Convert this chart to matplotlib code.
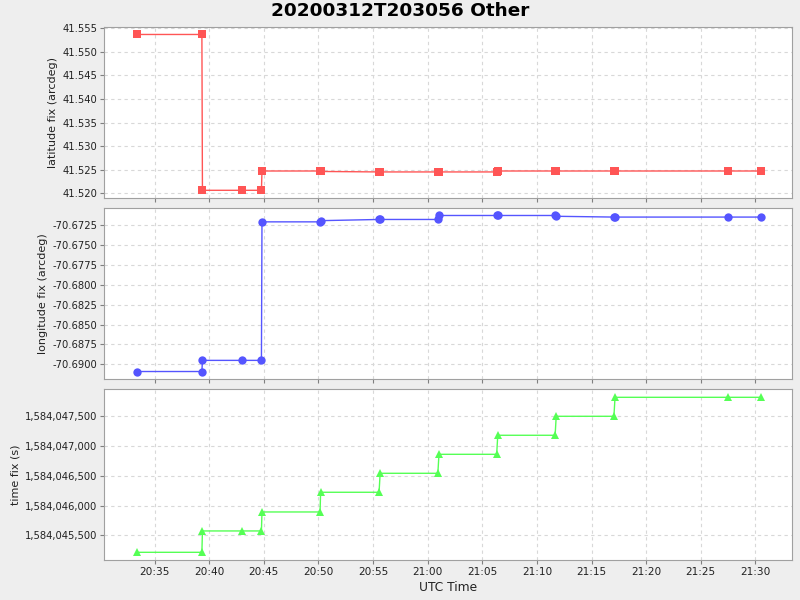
import matplotlib
matplotlib.use("Agg")
import matplotlib.pyplot as plt
import matplotlib.dates as mdates
from matplotlib.ticker import FuncFormatter, MultipleLocator
import pandas as pd

title = "20200312T203056 Other"
x_label = "UTC Time"
y_labels = ["latitude fix (arcdeg)", "longitude fix (arcdeg)", "time fix (s)"]

utc_times = ["20:33:26", "20:39:20", "20:39:23", "20:43:03", "20:44:47", "20:44:50",
             "20:50:09", "20:50:12", "20:55:33", "20:55:39", "21:00:56", "21:01:02",
             "21:06:19", "21:06:25", "21:11:40", "21:11:46", "21:17:03", "21:17:09",
             "21:27:32", "21:30:29"]

latitude = [41.5537, 41.5537, 41.5206, 41.5206, 41.5206, 41.5247,
            41.5247, 41.5246, 41.5245, 41.5245, 41.5245, 41.5245,
            41.5245, 41.5247, 41.5247, 41.5247, 41.5247, 41.5247,
            41.5247, 41.5247]

longitude = [-70.6909, -70.6909, -70.6895, -70.6895, -70.6895, -70.6721,
             -70.6721, -70.67195, -70.6718, -70.6718, -70.6718, -70.6713,
             -70.6713, -70.6713, -70.6713, -70.6714, -70.6715, -70.6715,
             -70.6715, -70.6715]

time_fix = [1584045214, 1584045214, 1584045573, 1584045573, 1584045573, 1584045892,
            1584045892, 1584046223, 1584046223, 1584046542, 1584046542, 1584046861,
            1584046861, 1584047181, 1584047181, 1584047500, 1584047500, 1584047819,
            1584047819, 1584047819]

x = pd.to_datetime(["2020-03-12 " + t for t in utc_times])
xmin = pd.Timestamp("2020-03-12 20:30:25")
xmax = pd.Timestamp("2020-03-12 21:33:21")

bg = "#EEEEEE"
plt.rcParams['font.family'] = ['DejaVu Sans']
fig = plt.figure(figsize=(8, 6), dpi=100, facecolor=bg)

left, width = 0.1306, 0.99 - 0.1306
boxes = [(0.6695, 0.9555), (0.3678, 0.6528), (0.0662, 0.3517)]
series = [latitude, longitude, time_fix]
colors = ["#FF5555", "#5555FF", "#55FF55"]
markers = ["s", "o", "^"]
ylims = [(41.5189, 41.55535), (-70.69188, -70.6704), (1584045080, 1584047959)]
ysteps = [0.005, 0.0025, 500]
fmts = [lambda v, p: f"{v:.3f}", lambda v, p: f"{v:.4f}", lambda v, p: f"{v:,.0f}"]

axes = []
for i, (b, t) in enumerate(boxes):
    ax = fig.add_axes([left, b, width, t - b])
    ax.set_facecolor("white")
    ax.plot(x, series[i], color=colors[i], marker=markers[i], markersize=6,
            linewidth=1.0, markeredgewidth=0, zorder=3)
    ax.set_xlim(xmin, xmax)
    ax.set_ylim(*ylims[i])
    ax.yaxis.set_major_locator(MultipleLocator(ysteps[i]))
    ax.yaxis.set_major_formatter(FuncFormatter(fmts[i]))
    ax.xaxis.set_major_locator(mdates.MinuteLocator(byminute=range(0, 60, 5)))
    ax.xaxis.set_major_formatter(mdates.DateFormatter("%H:%M"))
    ax.grid(True, color="#D8D8D8", linestyle=(0, (3, 3)), linewidth=0.8)
    for s in ax.spines.values():
        s.set_color("#A0A0A0")
    ax.tick_params(axis="both", colors="#808080", labelcolor="#222222",
                   length=3, width=0.8, pad=2)
    ax.tick_params(axis="y", labelsize=7.2)
    ax.tick_params(axis="x", labelsize=7.6)
    ax.set_ylabel(y_labels[i], fontsize=8, color="#222222", labelpad=3)
    if i < 2:
        ax.tick_params(axis="x", labelbottom=False)
    axes.append(ax)

axes[-1].set_xlabel(x_label, fontsize=8.8, color="#222222", labelpad=3)
fig.suptitle(title, fontsize=13.3, fontweight="bold", y=0.997)

fig.savefig("out.png", dpi=100, facecolor=bg)
